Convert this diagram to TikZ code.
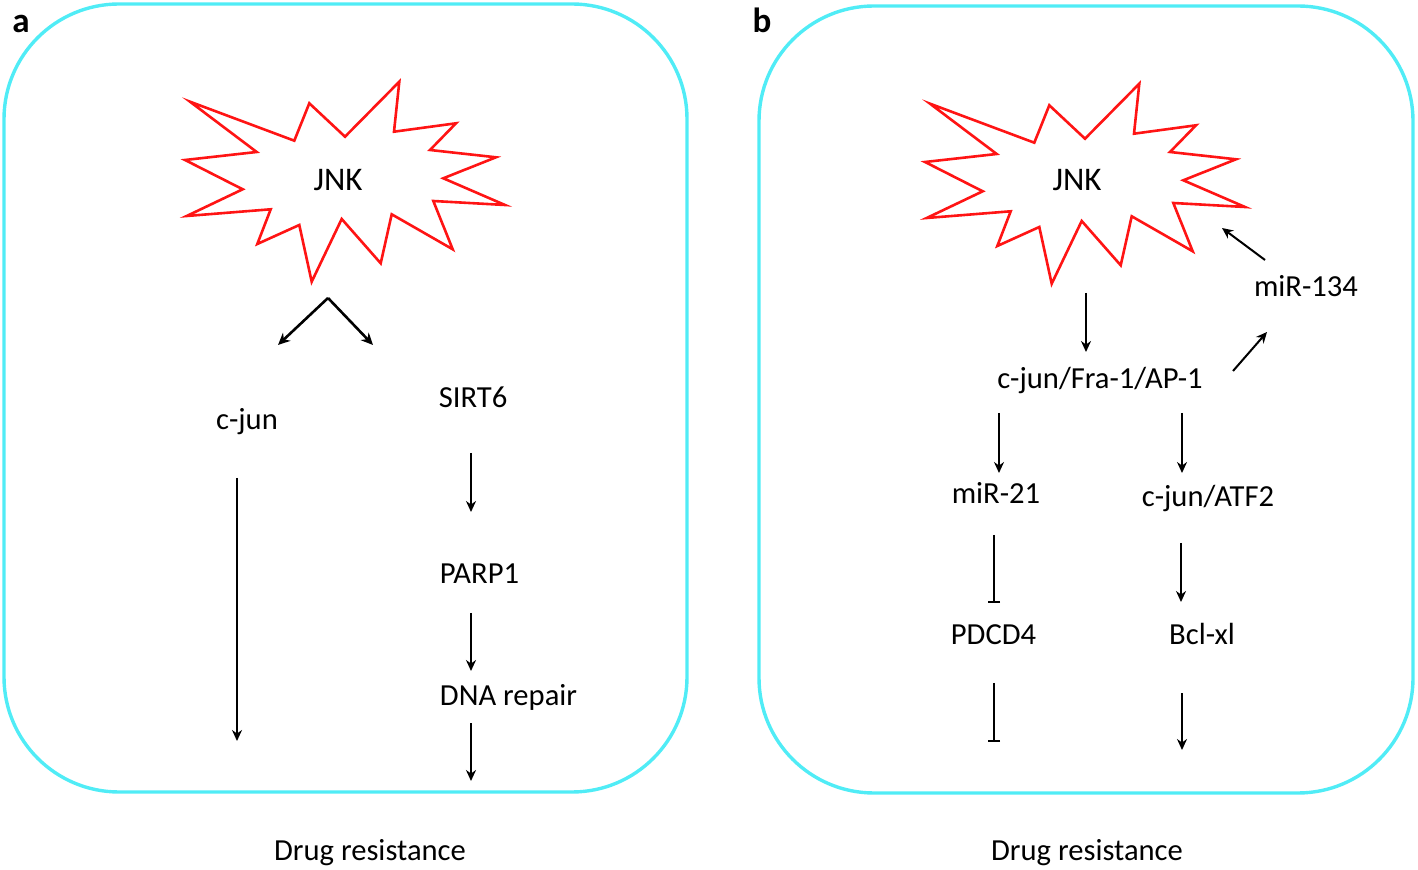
\documentclass[tikz,border=0pt]{standalone}
\usepackage{fontspec}
\setmainfont{Carlito}
\usetikzlibrary{arrows.meta,calc}
\definecolor{boxcyan}{RGB}{80,236,246}
\definecolor{burstred}{RGB}{255,20,20}
\begin{document}
\begin{tikzpicture}[x=0.5pt,y=-0.5pt,
  lbl/.style={inner sep=0pt, text height=0.85em, text depth=0pt, font=\fontsize{15.3pt}{18pt}\selectfont},
  jnklbl/.style={inner sep=0pt, text height=0.8em, text depth=0pt, font=\fontsize{16.5pt}{19pt}\selectfont},
  panel/.style={draw=boxcyan, line width=1.7pt, rounded corners=57.5pt},
  burstline/.style={draw=burstred, line width=1.3pt, line join=miter},
  arr/.style={line width=1pt, -{Stealth[length=5.5pt,width=5pt]}},
  branch/.style={line width=1.3pt, -{Stealth[length=6pt,width=5.5pt]}},
  inh/.style={line width=1pt, -{Bar[width=6pt,line width=1pt]}},
  tag/.style={font=\fontsize{17.5pt}{20pt}\selectfont\bfseries, anchor=base, inner sep=0pt},
  burst/.pic={\draw[burstline] (-148,-81.3) -- (-43.7,-42.3) -- (-28.7,-79.7) -- (7,-46.3)
     -- (61.3,-101.3) -- (56,-51.3) -- (118,-59.7) -- (92,-33) -- (158,-25.7) -- (105.3,-4.7)
     -- (167,22) -- (95.3,18) -- (114.7,66.3) -- (53.7,31.3) -- (42.7,80.3) -- (3.7,36)
     -- (-26.3,98.7) -- (-38.7,42) -- (-80.7,61) -- (-67.3,26.3) -- (-151.3,33) -- (-95.3,6.3)
     -- (-153,-23) -- (-81.3,-31) -- cycle;}
]
\useasboundingbox (0,0) rectangle (1418,870);
\draw[panel] (4,4) rectangle (687,792);
\draw[panel] (759,6) rectangle (1413,793);
\node[tag] (tagA) at (21,33) {a};
\node[tag] (tagB) at (762,33) {b};

% panel a
\node[jnklbl] (jnkA) at (338,183) {JNK};
\pic at (jnkA) {burst};
\node[lbl] (cjun) at (247,421) {c-jun};
\node[lbl] (sirt) at (473,399) {SIRT6};
\node[lbl] (parp) at (479.5,575) {PARP1};
\node[lbl] (dna) at (508.5,697) {DNA repair};
\node[lbl] (drugA) at (370,852) {Drug resistance};

\draw[branch] ($(jnkA)+(-10,115)$) -- ($(cjun)+(31,-76)$);
\draw[branch] ($(jnkA)+(-10,115)$) -- ($(sirt)+(-100,-54)$);
\draw[arr] ($(cjun)+(-10,57)$) -- ($(drugA)+(-133,-111)$);
\draw[arr] ($(sirt)+(-2,54)$) -- ($(parp)+(-8.5,-63)$);
\draw[arr] ($(parp)+(-8.5,38)$) -- ($(dna)+(-37.5,-26)$);
\draw[arr] ($(dna)+(-37.5,26)$) -- ($(drugA)+(101,-71)$);

% panel b
\node[jnklbl] (jnkB) at (1077,183) {JNK};
\pic at ($(jnkB)+(1,2)$) {burst};
\node[lbl] (mir134) at (1306,288) {miR-134};
\node[lbl] (ap1) at (1100,380) {c-jun/Fra-1/AP-1};
\node[lbl] (mir21) at (996,495) {miR-21};
\node[lbl] (atf2) at (1208,498) {c-jun/ATF2};
\node[lbl] (pdcd4) at (993.5,636) {PDCD4};
\node[lbl] (bcl) at (1202,636) {Bcl-xl};
\node[lbl] (drugB) at (1087,852) {Drug resistance};

\draw[arr] ($(mir134)+(-41,-28)$) -- ($(jnkB)+(145,45)$);
\draw[arr] ($(jnkB)+(9,110)$) -- ($(ap1)+(-14,-28)$);
\draw[arr] ($(ap1)+(133,-9)$) -- ($(mir134)+(-39,44)$);
\draw[arr] ($(ap1)+(-101,33)$) -- ($(mir21)+(3,-22)$);
\draw[arr] ($(ap1)+(82,33)$) -- ($(atf2)+(-26,-25)$);
\draw[inh] ($(mir21)+(-2,40)$) -- ($(pdcd4)+(0.5,-33)$);
\draw[arr] ($(atf2)+(-27,45)$) -- ($(bcl)+(-21,-34)$);
\draw[inh] ($(pdcd4)+(0.5,47)$) -- ($(drugB)+(-93,-110)$);
\draw[arr] ($(bcl)+(-20,57)$) -- ($(drugB)+(95,-102)$);
\end{tikzpicture}
\end{document}
